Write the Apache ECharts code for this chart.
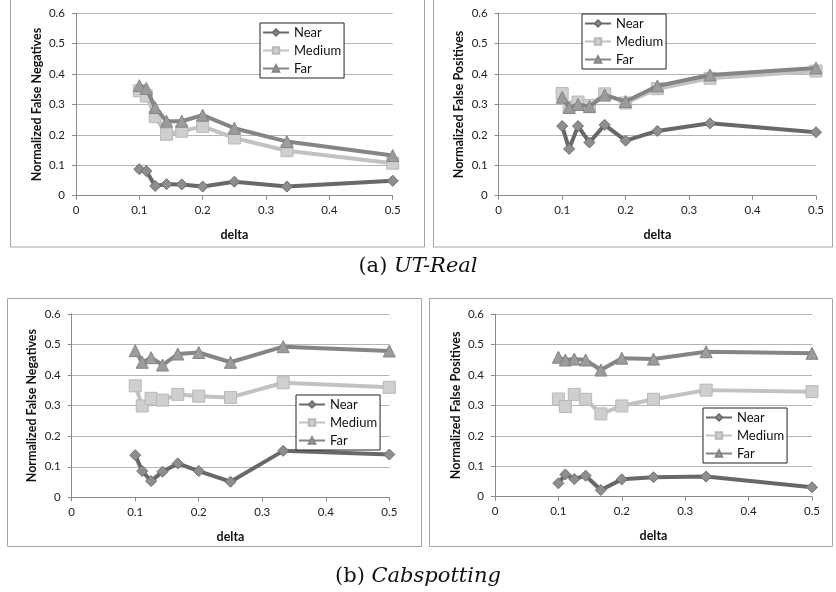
<!DOCTYPE html>
<html>
<head>
<meta charset="utf-8">
<script src="https://cdn.jsdelivr.net/npm/echarts@6/dist/echarts.min.js"></script>
<style>
html,body{margin:0;padding:0;background:#fff;}
#c{width:836px;height:592px;}
</style>
</head>
<body>
<div id="c"></div>
<script>
// x values (delta)
const deltas = [0.1, 0.111, 0.125, 0.143, 0.167, 0.2, 0.25, 0.333, 0.5];
const seriesNames = ['Near', 'Medium', 'Far'];
const xTicks = [0, 0.1, 0.2, 0.3, 0.4, 0.5];
const yTicks = [0, 0.1, 0.2, 0.3, 0.4, 0.5, 0.6];

// (a) UT-Real, False Negatives
const utFN_near   = [0.087, 0.081, 0.032, 0.038, 0.037, 0.030, 0.046, 0.030, 0.049];
const utFN_medium = [0.345, 0.328, 0.260, 0.202, 0.212, 0.228, 0.190, 0.148, 0.107];
const utFN_far    = [0.362, 0.353, 0.290, 0.245, 0.245, 0.265, 0.222, 0.178, 0.132];
// (a) UT-Real, False Positives
const utFP_near   = [0.229, 0.154, 0.229, 0.175, 0.233, 0.181, 0.213, 0.238, 0.209];
const utFP_medium = [0.336, 0.292, 0.308, 0.297, 0.335, 0.305, 0.352, 0.386, 0.410];
const utFP_far    = [0.324, 0.290, 0.300, 0.293, 0.331, 0.310, 0.361, 0.397, 0.420];
// (b) Cabspotting, False Negatives
const cbFN_near   = [0.138, 0.086, 0.053, 0.084, 0.111, 0.086, 0.051, 0.152, 0.140];
const cbFN_medium = [0.365, 0.299, 0.324, 0.318, 0.337, 0.331, 0.327, 0.375, 0.360];
const cbFN_far    = [0.480, 0.442, 0.457, 0.433, 0.469, 0.474, 0.442, 0.493, 0.479];
// (b) Cabspotting, False Positives
const cbFP_near   = [0.044, 0.073, 0.058, 0.069, 0.022, 0.057, 0.064, 0.066, 0.031];
const cbFP_medium = [0.321, 0.296, 0.336, 0.320, 0.272, 0.298, 0.320, 0.350, 0.345];
const cbFP_far    = [0.458, 0.449, 0.452, 0.449, 0.416, 0.455, 0.452, 0.476, 0.471];

const yNames = ['Normalized False Negatives', 'Normalized False Positives', 'Normalized False Negatives', 'Normalized False Positives'];
const xName = 'delta';
const captions = [['(a) ', 'UT-Real'], ['(b) ', 'Cabspotting']];

const panels = [
  [utFN_near, utFN_medium, utFN_far],
  [utFP_near, utFP_medium, utFP_far],
  [cbFN_near, cbFN_medium, cbFN_far],
  [cbFP_near, cbFP_medium, cbFP_far]
];

const grids = [
  {left: 76, right: 443.3, top: 13.3, bottom: 396.3},
  {left: 498.7, right: 20, top: 13.3, bottom: 396.3},
  {left: 71.7, right: 446.7, top: 314, bottom: 94.7},
  {left: 495, right: 24, top: 314, bottom: 95.3}
];
const legendPos = [
  {left: 260, top: 23},
  {left: 582, top: 14},
  {left: 296, top: 395},
  {left: 703, top: 408}
];
const frames = [
  {x: 10.5, y: -2, w: 414, h: 249},
  {x: 433.5, y: -2, w: 399, h: 249},
  {x: 7.5, y: 298.5, w: 414, h: 248},
  {x: 429.5, y: 298.5, w: 403, h: 248}
];

const styles = [
  {symbol: 'diamond', size: 11, line: '#686868', fill: '#8e8e8e', border: '#6e6e6e'},
  {symbol: 'rect', size: 12, line: '#c2c2c2', fill: '#cfcfcf', border: '#b8b8b8'},
  {symbol: 'triangle', size: 12, line: '#858585', fill: '#9c9c9c', border: '#848484'}
];

const FONT = 'Lato, "Open Sans", sans-serif';

const xAxes = [], yAxes = [], series = [], legends = [], graphics = [];
panels.forEach((p, i) => {
  xAxes.push({
    type: 'value', gridIndex: i, min: 0, max: 0.5, interval: 0.1,
    name: xName, nameLocation: 'middle', nameGap: 33,
    nameTextStyle: {fontFamily: FONT, fontWeight: 'bold', fontSize: 12.5, color: '#111'},
    axisLine: {lineStyle: {color: '#8a8a8a', width: 1}},
    axisTick: {show: true, length: 4, lineStyle: {color: '#8a8a8a'}},
    axisLabel: {fontFamily: FONT, fontSize: 11.5, color: '#222', margin: 9,
      formatter: v => String(+v.toFixed(1))},
    splitLine: {show: false}
  });
  yAxes.push({
    type: 'value', gridIndex: i, min: 0, max: 0.6, interval: 0.1,
    name: yNames[i], nameLocation: 'middle', nameGap: 33,
    nameTextStyle: {fontFamily: FONT, fontWeight: 'bold', fontSize: 12.5, color: '#111'},
    axisLine: {show: true, lineStyle: {color: '#8a8a8a', width: 1}},
    axisTick: {show: true, length: 4, lineStyle: {color: '#8a8a8a'}},
    axisLabel: {fontFamily: FONT, fontSize: 11.5, color: '#222', margin: 11,
      formatter: v => String(+v.toFixed(1))},
    splitLine: {show: true, lineStyle: {color: '#b4b4b4', width: 1}}
  });
  p.forEach((vals, k) => {
    const s = styles[k];
    series.push({
      type: 'line', name: seriesNames[k], xAxisIndex: i, yAxisIndex: i,
      data: deltas.map((d, j) => [d, vals[j]]),
      symbol: s.symbol, symbolSize: s.size, showAllSymbol: true,
      lineStyle: {color: s.line, width: 4},
      itemStyle: {color: s.fill, borderColor: s.border, borderWidth: 1},
      emphasis: {disabled: true},
      animation: false,
      z: 2 + k
    });
  });
  legends.push(Object.assign({
    orient: 'vertical', data: seriesNames,
    backgroundColor: '#fff', borderColor: '#222', borderWidth: 1,
    padding: [3, 3, 3, 2], itemGap: 5, itemWidth: 26, itemHeight: 8,
    textStyle: {fontFamily: FONT, fontSize: 13, color: '#111'},
    selectedMode: false
  }, legendPos[i]));
  const f = frames[i];
  graphics.push({
    type: 'rect', shape: {x: f.x, y: f.y, width: f.w, height: f.h},
    style: {fill: 'none', stroke: '#a6a6a6', lineWidth: 1}, z: -10, silent: true
  });
});

captions.forEach((c, i) => {
  graphics.push({
    type: 'text', left: 'center', top: i === 0 ? 256 : 566,
    style: {
      text: '{a|' + c[0] + '}{b|' + c[1] + '}',
      rich: {
        a: {fontFamily: '"DejaVu Serif", serif', fontSize: 21, fill: '#111', color: '#111'},
        b: {fontFamily: '"DejaVu Serif", serif', fontSize: 21, fontStyle: 'italic', fill: '#111', color: '#111'}
      }
    },
    silent: true
  });
});

const chart = echarts.init(document.getElementById('c'), null, {renderer: 'canvas'});
chart.setOption({
  animation: false,
  backgroundColor: '#fff',
  grid: grids,
  xAxis: xAxes,
  yAxis: yAxes,
  legend: legends,
  series: series,
  graphic: graphics
});
</script>
</body>
</html>
